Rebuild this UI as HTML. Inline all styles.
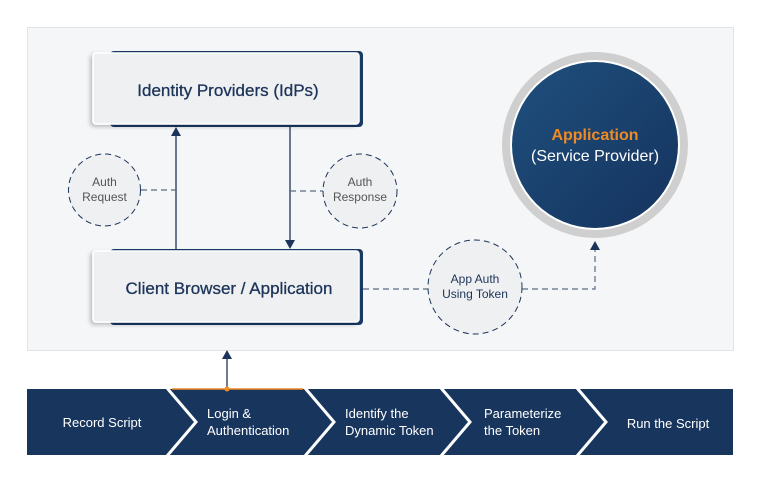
<!DOCTYPE html>
<html><head><meta charset="utf-8"><style>
html,body{margin:0;padding:0;background:#fff;}
svg{display:block;font-family:"Liberation Sans",sans-serif;}
</style></head><body>
<svg width="760" height="479" viewBox="0 0 760 479" xmlns="http://www.w3.org/2000/svg">
<defs>
<linearGradient id="g" x1="0" y1="0" x2="1" y2="1"><stop offset="0" stop-color="#1f4f7d"/><stop offset="1" stop-color="#15335e"/></linearGradient>
<filter id="sh" x="-20%" y="-20%" width="140%" height="140%"><feDropShadow dx="-2" dy="2" stdDeviation="2" flood-color="#000" flood-opacity="0.25"/></filter>
</defs>
<rect x="27.5" y="27.5" width="706" height="323" fill="#f5f6f8" stroke="#e2e3e5"/>
<rect x="110" y="51" width="253" height="76" rx="4" fill="#1a3a66"/>
<rect x="93" y="53" width="266" height="71" rx="3" fill="#eff0f2" stroke="#fff" stroke-width="1.5" filter="url(#sh)"/>
<text x="228" y="96" text-anchor="middle" font-size="17" fill="#1c3459" stroke="#1c3459" stroke-width="0.3">Identity Providers (IdPs)</text>
<rect x="110" y="249" width="253" height="76" rx="4" fill="#1a3a66"/>
<rect x="93" y="251" width="266" height="71" rx="3" fill="#eff0f2" stroke="#fff" stroke-width="1.5" filter="url(#sh)"/>
<text x="229" y="294" text-anchor="middle" font-size="17" fill="#1c3459" stroke="#1c3459" stroke-width="0.3">Client Browser / Application</text>
<line x1="176" y1="249" x2="176" y2="135" stroke="#1c3459" stroke-width="1.3"/>
<polygon points="171,136 181,136 176,127" fill="#1c3459"/>
<line x1="290" y1="127" x2="290" y2="241" stroke="#1c3459" stroke-width="1.3"/>
<polygon points="285,240 295,240 290,249" fill="#1c3459"/>
<g stroke="#5a6b85" stroke-width="1.2" stroke-dasharray="6,4" fill="none">
<line x1="141" y1="190" x2="176" y2="190"/>
<line x1="290" y1="191" x2="323" y2="191"/>
<polyline points="363,289 428,289"/>
<polyline points="522,289 595,289 595,248"/>
</g>
<polygon points="590,250 600,250 595,241" fill="#1c3459"/>
<circle cx="104.5" cy="190" r="36" fill="#eff0f2" stroke="#1c3459" stroke-width="1" stroke-dasharray="6,4"/>
<text x="104.5" y="186" text-anchor="middle" font-size="12" fill="#555">Auth</text>
<text x="104.5" y="201" text-anchor="middle" font-size="12" fill="#555">Request</text>
<circle cx="360" cy="191" r="37" fill="#eff0f2" stroke="#1c3459" stroke-width="1" stroke-dasharray="6,4"/>
<text x="360" y="186" text-anchor="middle" font-size="12" fill="#555">Auth</text>
<text x="360" y="201" text-anchor="middle" font-size="12" fill="#555">Response</text>
<circle cx="475" cy="287" r="47" fill="#eff0f2" stroke="#1c3459" stroke-width="1" stroke-dasharray="6,4"/>
<text x="475" y="283" text-anchor="middle" font-size="12" fill="#1c3459">App Auth</text>
<text x="475" y="298" text-anchor="middle" font-size="12" fill="#1c3459">Using Token</text>
<circle cx="595" cy="145" r="93" fill="#cfcfcf"/>
<circle cx="595" cy="145" r="85" fill="#fff"/>
<circle cx="595" cy="145" r="83" fill="url(#g)"/>
<text x="595" y="140" text-anchor="middle" font-size="16" font-weight="bold" fill="#f08a24">Application</text>
<text x="595" y="161" text-anchor="middle" font-size="16" fill="#fff">(Service Provider)</text>
<line x1="227" y1="388" x2="227" y2="358" stroke="#1c3459" stroke-width="1.3"/>
<polygon points="222,359 232,359 227,350" fill="#1c3459"/>
<rect x="27" y="389" width="706" height="66" fill="#18355d"/>
<g stroke="#fff" stroke-width="3" fill="none">
<polyline points="167,388 196,422 167,456"/>
<polyline points="305,388 334,422 305,456"/>
<polyline points="441,388 470,422 441,456"/>
<polyline points="577,388 606,422 577,456"/>
</g>
<line x1="172" y1="389" x2="303" y2="389" stroke="#f08a24" stroke-width="1.5"/>
<circle cx="227" cy="389" r="2.5" fill="#f08a24"/>
<g font-size="13" fill="#fff">
<text x="102" y="427" text-anchor="middle">Record Script</text>
<text x="207" y="418">Login &amp;</text>
<text x="207" y="435">Authentication</text>
<text x="345" y="418">Identify the</text>
<text x="345" y="435">Dynamic Token</text>
<text x="484" y="418">Parameterize</text>
<text x="484" y="435">the Token</text>
<text x="668" y="428" text-anchor="middle">Run the Script</text>
</g>
</svg>
</body></html>
